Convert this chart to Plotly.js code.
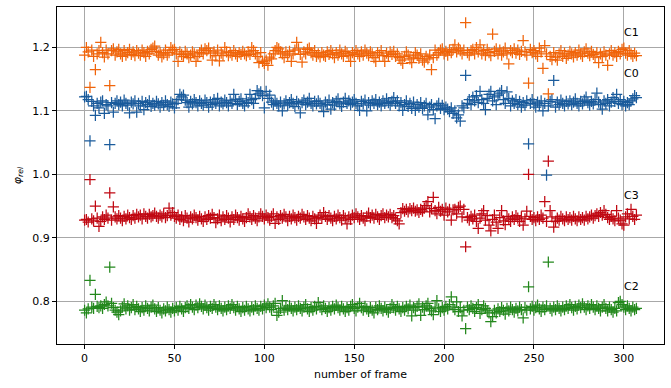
<!DOCTYPE html>
<html><head><meta charset="utf-8">
<script src="https://cdn.plot.ly/plotly-3.0.1.min.js"></script>
<style>html,body{margin:0;padding:0;background:#fff}#chart{width:671px;height:388px}</style>
</head><body><div id="chart"></div>
<script>
const seriesNames = ["C0", "C1", "C2", "C3"];
const seriesColors = ["#1a5b9c", "#f0640a", "#23881c", "#c00812"];

const C1 = [
1.188,1.200,1.193,1.137,1.196,1.186,1.165,1.190,1.195,1.208,
1.192,1.185,1.196,1.190,1.140,1.195,1.198,1.188,1.193,1.197,
1.190,1.186,1.195,1.188,1.192,1.197,1.189,1.193,1.187,1.195,
1.191,1.188,1.196,1.192,1.186,1.194,1.190,1.197,1.199,1.202,
1.194,1.188,1.192,1.185,1.190,1.196,1.188,1.192,1.200,1.196,
1.197,1.190,1.178,1.193,1.189,1.186,1.194,1.190,1.184,1.188,
1.193,1.190,1.178,1.186,1.192,1.196,1.190,1.198,1.195,1.199,
1.191,1.180,1.193,1.187,1.196,1.179,1.191,1.188,1.200,1.193,
1.187,1.192,1.188,1.195,1.190,1.186,1.192,1.189,1.194,1.190,
1.187,1.193,1.189,1.200,1.195,1.190,1.186,1.176,1.192,1.178,
1.175,1.180,1.172,1.185,1.182,1.190,1.195,1.200,1.198,1.193,
1.190,1.184,1.193,1.188,1.194,1.178,1.190,1.196,1.208,1.198,
1.189,1.177,1.193,1.190,1.197,1.199,1.192,1.188,1.195,1.186,
1.190,1.185,1.192,1.188,1.186,1.193,1.189,1.195,1.190,1.184,
1.192,1.188,1.196,1.190,1.186,1.194,1.191,1.187,1.178,1.192,
1.189,1.195,1.190,1.186,1.193,1.188,1.196,1.191,1.187,1.193,
1.190,1.184,1.178,1.192,1.188,1.195,1.187,1.178,1.191,1.186,
1.193,1.189,1.194,1.186,1.190,1.184,1.180,1.175,1.186,1.193,
1.188,1.182,1.176,1.185,1.192,1.188,1.183,1.190,1.180,1.177,
1.186,1.182,1.188,1.165,1.184,1.196,1.188,1.192,1.196,1.198,
1.190,1.194,1.188,1.196,1.192,1.197,1.204,1.193,1.199,1.195,
1.190,1.196,1.239,1.192,1.188,1.195,1.197,1.190,1.200,1.193,
1.204,1.190,1.195,1.188,1.197,1.192,1.187,1.221,1.194,1.198,
1.190,1.196,1.188,1.193,1.199,1.190,1.174,1.195,1.192,1.198,
1.191,1.196,1.189,1.194,1.211,1.193,1.188,1.144,1.197,1.192,
1.195,1.190,1.186,1.199,1.193,1.167,1.203,1.190,1.127,1.186,
1.181,1.192,1.185,1.180,1.190,1.195,1.186,1.191,1.183,1.188,
1.194,1.190,1.185,1.192,1.188,1.196,1.190,1.186,1.193,1.198,
1.191,1.187,1.194,1.189,1.185,1.192,1.176,1.190,1.186,1.193,
1.188,1.172,1.190,1.195,1.188,1.192,1.186,1.194,1.190,1.197,
1.199,1.191,1.188,1.195,1.190,1.186,1.191,1.187];

const C0 = [
1.122,1.123,1.118,1.053,1.115,1.108,1.093,1.112,1.105,1.114,
1.116,1.096,1.110,1.108,1.047,1.113,1.098,1.112,1.116,1.110,
1.114,1.108,1.117,1.112,1.109,1.097,1.114,1.111,1.116,1.098,
1.112,1.108,1.115,1.102,1.113,1.110,1.116,1.107,1.112,1.109,
1.115,1.111,1.106,1.113,1.109,1.116,1.110,1.107,1.114,1.111,
1.105,1.112,1.118,1.126,1.122,1.125,1.117,1.113,1.106,1.115,
1.111,1.118,1.113,1.108,1.116,1.112,1.109,1.117,1.113,1.106,
1.114,1.110,1.118,1.112,1.120,1.108,1.114,1.111,1.117,1.113,
1.108,1.116,1.112,1.126,1.118,1.110,1.115,1.119,1.112,1.108,
1.116,1.113,1.126,1.118,1.112,1.120,1.132,1.127,1.130,1.124,
1.105,1.131,1.120,1.125,1.114,1.110,1.116,1.112,1.108,1.114,
1.100,1.111,1.116,1.109,1.113,1.118,1.112,1.107,1.115,1.111,
1.097,1.113,1.117,1.110,1.114,1.120,1.112,1.108,1.115,1.111,
1.116,1.112,1.108,1.099,1.114,1.110,1.117,1.103,1.113,1.109,
1.115,1.119,1.111,1.107,1.114,1.120,1.112,1.116,1.110,1.114,
1.118,1.112,1.108,1.101,1.115,1.111,1.117,1.100,1.113,1.109,
1.116,1.112,1.118,1.110,1.114,1.108,1.116,1.112,1.119,1.113,
1.109,1.115,1.121,1.112,1.116,1.108,1.113,1.101,1.110,1.116,
1.107,1.112,1.104,1.114,1.101,1.110,1.106,1.113,1.104,1.108,
1.112,1.094,1.106,1.110,1.102,1.088,1.108,1.112,1.104,1.109,
1.102,1.106,1.103,1.099,1.105,1.096,1.100,1.089,1.094,1.084,
1.108,1.105,1.156,1.112,1.118,1.110,1.122,1.116,1.124,1.113,
1.131,1.118,1.112,1.102,1.120,1.126,1.131,1.116,1.122,1.110,
1.125,1.128,1.132,1.118,1.112,1.130,1.120,1.108,1.116,1.112,
1.118,1.110,1.115,1.106,1.113,1.109,1.116,1.048,1.112,1.118,
1.111,1.106,1.114,1.109,1.116,1.100,1.112,0.999,1.108,1.115,
1.118,1.148,1.106,1.114,1.110,1.117,1.112,1.108,1.115,1.111,
1.116,1.110,1.114,1.119,1.112,1.108,1.115,1.111,1.117,1.122,
1.113,1.109,1.115,1.111,1.118,1.128,1.114,1.110,1.103,1.116,
1.112,1.118,1.108,1.114,1.121,1.115,1.126,1.112,1.118,1.110,
1.115,1.108,1.113,1.110,1.116,1.119,1.124,1.121];

const C3 = [
0.928,0.929,0.925,0.992,0.930,0.927,0.950,0.931,0.918,0.926,
0.933,0.929,0.936,0.931,0.971,0.928,0.949,0.933,0.930,0.935,
0.931,0.927,0.934,0.930,0.936,0.932,0.929,0.935,0.931,0.937,
0.933,0.936,0.930,0.938,0.934,0.931,0.937,0.933,0.935,0.939,
0.934,0.931,0.936,0.933,0.938,0.932,0.935,0.947,0.936,0.940,
0.934,0.931,0.936,0.929,0.933,0.927,0.935,0.931,0.925,0.933,
0.930,0.936,0.932,0.928,0.934,0.930,0.926,0.933,0.929,0.935,
0.931,0.937,0.932,0.924,0.930,0.936,0.927,0.933,0.929,0.935,
0.931,0.925,0.933,0.929,0.936,0.932,0.928,0.934,0.930,0.926,
0.932,0.938,0.933,0.929,0.935,0.931,0.927,0.933,0.938,0.934,
0.930,0.936,0.932,0.928,0.934,0.938,0.923,0.933,0.929,0.935,
0.931,0.937,0.933,0.927,0.934,0.930,0.936,0.932,0.928,0.934,
0.931,0.937,0.933,0.929,0.935,0.931,0.927,0.934,0.930,0.923,
0.932,0.936,0.931,0.940,0.934,0.929,0.935,0.931,0.927,0.934,
0.930,0.936,0.932,0.928,0.935,0.931,0.922,0.933,0.929,0.936,
0.932,0.938,0.933,0.929,0.935,0.931,0.927,0.934,0.939,0.932,
0.936,0.931,0.937,0.933,0.929,0.935,0.938,0.932,0.936,0.933,
0.937,0.932,0.935,0.930,0.927,0.922,0.940,0.946,0.942,0.945,
0.941,0.946,0.943,0.947,0.942,0.944,0.940,0.945,0.942,0.947,
0.951,0.957,0.941,0.946,0.964,0.943,0.938,0.948,0.942,0.945,
0.936,0.947,0.941,0.945,0.928,0.944,0.945,0.938,0.948,0.950,
0.933,0.945,0.886,0.932,0.928,0.934,0.930,0.936,0.926,0.915,
0.931,0.938,0.943,0.928,0.935,0.920,0.911,0.929,0.936,0.925,
0.915,0.932,0.943,0.927,0.921,0.934,0.930,0.926,0.933,0.929,
0.935,0.931,0.926,0.933,0.920,0.930,0.942,1.000,0.934,0.929,
0.932,0.927,0.933,0.929,0.936,0.931,0.957,0.926,1.021,0.943,
0.933,0.917,0.926,0.931,0.928,0.934,0.930,0.927,0.933,0.929,
0.932,0.928,0.934,0.930,0.927,0.933,0.929,0.932,0.928,0.934,
0.930,0.933,0.936,0.931,0.935,0.938,0.934,0.940,0.936,0.943,
0.937,0.932,0.929,0.934,0.930,0.927,0.943,0.931,0.928,0.922,
0.920,0.933,0.938,0.930,0.945,0.934,0.929,0.936];

const C2 = [
0.786,0.782,0.788,0.833,0.791,0.789,0.811,0.792,0.790,0.793,
0.789,0.795,0.799,0.793,0.854,0.797,0.790,0.786,0.783,0.779,
0.785,0.791,0.796,0.788,0.793,0.786,0.790,0.795,0.787,0.792,
0.788,0.784,0.790,0.786,0.793,0.789,0.785,0.791,0.794,0.788,
0.784,0.790,0.786,0.782,0.788,0.785,0.791,0.787,0.783,0.789,
0.785,0.790,0.786,0.792,0.788,0.784,0.790,0.793,0.789,0.795,
0.791,0.787,0.794,0.790,0.796,0.792,0.788,0.794,0.790,0.786,
0.792,0.789,0.795,0.791,0.787,0.793,0.789,0.785,0.791,0.787,
0.793,0.789,0.795,0.790,0.786,0.792,0.788,0.784,0.790,0.786,
0.792,0.788,0.785,0.791,0.787,0.793,0.789,0.786,0.792,0.788,
0.794,0.790,0.796,0.791,0.787,0.793,0.797,0.778,0.783,0.789,
0.801,0.786,0.791,0.787,0.793,0.789,0.785,0.791,0.787,0.793,
0.789,0.785,0.791,0.795,0.788,0.784,0.790,0.786,0.792,0.788,
0.798,0.791,0.787,0.793,0.789,0.784,0.790,0.786,0.792,0.788,
0.794,0.790,0.786,0.792,0.788,0.784,0.790,0.786,0.792,0.795,
0.789,0.785,0.791,0.797,0.790,0.786,0.792,0.788,0.784,0.790,
0.786,0.782,0.791,0.787,0.793,0.789,0.785,0.791,0.787,0.783,
0.789,0.795,0.790,0.786,0.792,0.788,0.784,0.790,0.786,0.792,
0.788,0.794,0.777,0.790,0.786,0.792,0.796,0.778,0.791,0.787,
0.793,0.797,0.789,0.785,0.779,0.791,0.801,0.788,0.784,0.790,
0.786,0.792,0.788,0.795,0.807,0.791,0.787,0.799,0.784,0.790,
0.777,0.786,0.757,0.791,0.787,0.793,0.789,0.784,0.790,0.795,
0.781,0.787,0.793,0.789,0.785,0.782,0.768,0.776,0.786,0.782,
0.788,0.784,0.790,0.786,0.780,0.789,0.785,0.791,0.787,0.783,
0.789,0.785,0.791,0.787,0.774,0.790,0.786,0.823,0.788,0.792,
0.786,0.790,0.794,0.788,0.784,0.791,0.787,0.793,0.862,0.789,
0.785,0.791,0.787,0.793,0.789,0.785,0.791,0.787,0.793,0.789,
0.795,0.790,0.786,0.792,0.788,0.794,0.790,0.796,0.791,0.787,
0.793,0.789,0.795,0.791,0.787,0.793,0.789,0.785,0.791,0.795,
0.789,0.785,0.791,0.787,0.783,0.789,0.785,0.798,0.800,0.795,
0.791,0.787,0.793,0.789,0.785,0.791,0.787,0.789];

const labelFrame = 300;
const labelY = [1.150, 1.215, 0.815, 0.958];
const xTicks = [0, 50, 100, 150, 200, 250, 300];
const yTicks = [0.8, 0.9, 1.0, 1.1, 1.2];

const allSeries = [C0, C1, C2, C3];
const frames = C0.map((_, i) => i);

const traces = allSeries.map((vals, k) => ({
  x: frames, y: vals, type: 'scatter', mode: 'markers', name: seriesNames[k],
  marker: {symbol: 'cross-thin', size: 8, color: seriesColors[k],
           line: {color: seriesColors[k], width: 1.25}},
  hoverinfo: 'skip'
}));

const annotations = seriesNames.map((n, k) => ({
  x: labelFrame, y: labelY[k], xref: 'x', yref: 'y', text: n, showarrow: false,
  xanchor: 'left', yanchor: 'bottom', xshift: -2, yshift: -3,
  font: {family: 'DejaVu Sans', size: 11, color: '#000'}
}));

const axisCommon = {
  showline: true, linecolor: '#000', linewidth: 1, mirror: true,
  ticks: 'outside', ticklen: 4, tickcolor: '#000', tickwidth: 1,
  showgrid: true, gridcolor: '#a8a8a8', gridwidth: 1, zeroline: false,
  tickfont: {family: 'DejaVu Sans', size: 11, color: '#000'}
};

const layout = {
  width: 671, height: 388,
  margin: {l: 57, r: 7, t: 7, b: 44},
  paper_bgcolor: '#fff', plot_bgcolor: '#fff',
  showlegend: false,
  xaxis: Object.assign({}, axisCommon, {
    range: [-15.35, 322.35], tickvals: xTicks, ticktext: xTicks.map(String),
    title: {text: 'number of frame', font: {family: 'DejaVu Sans', size: 11, color: '#000'}, standoff: 6}
  }),
  yaxis: Object.assign({}, axisCommon, {
    range: [0.7328, 1.2638], tickvals: yTicks, ticktext: yTicks.map(v => v.toFixed(1)),
    title: {text: '<i>φ</i><sub><i>rel</i></sub>', font: {family: 'DejaVu Sans', size: 11, color: '#000'}, standoff: 8}
  }),
  annotations: annotations
};

Plotly.newPlot('chart', traces, layout, {staticPlot: true, displayModeBar: false});
</script></body></html>
